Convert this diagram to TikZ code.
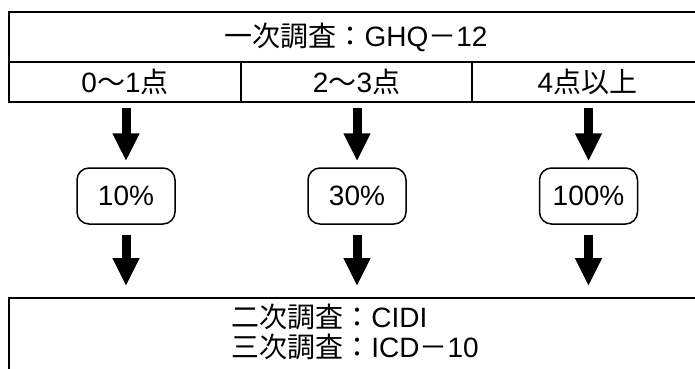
\documentclass[tikz,border=0pt]{standalone}
\usepackage{fontspec}
\setmainfont{Liberation Sans}
\newfontfamily\jp{Noto Sans CJK JP}
\usetikzlibrary{arrows.meta}
\begin{document}
\begin{tikzpicture}[x=1pt,y=-1pt,
  txt/.style={font=\fontsize{28}{30}\selectfont},
  frame/.style={draw, line width=1.8pt, inner sep=0pt, txt},
  pct/.style={draw, line width=1.5pt, rounded corners=12pt, minimum width=98pt, minimum height=56pt, inner sep=0pt, txt},
  blockarrow/.style={line width=9pt, -{Triangle[width=25pt,length=28pt]}},
  lbl/.style={txt, inner sep=0pt, align=left}
]
\useasboundingbox (0,0) rectangle (695,368);
\clip (0,0) rectangle (695,368);
% top box
\node[frame, minimum width=694pt, minimum height=50pt] (top) at (356,37) {{\jp 一次調査：}GHQ{\jp －}12};
\node[frame, minimum width=232pt, minimum height=40pt] (c1) at (125,82) {0{\jp 〜}1{\jp 点}};
\node[frame, minimum width=231pt, minimum height=40pt] (c2) at (356.5,82) {2{\jp 〜}3{\jp 点}};
\node[frame, minimum width=231pt, minimum height=40pt] (c3) at (587.5,82) {4{\jp 点以上}};
% percentage boxes
\node[pct] (p1) at (126,196) {10\%};
\node[pct] (p2) at (357,196) {30\%};
\node[pct] (p3) at (588.5,196) {100\%};
% bottom box
\node[frame, minimum width=694pt, minimum height=102pt] (bot) at (356,349) {};
\node[lbl] (bottxt) at (355,332) {{\jp 二次調査：}CIDI\\{\jp 三次調査：}ICD{\jp －}10};
% arrows
\foreach \c/\p in {c1/p1,c2/p2,c3/p3}{
  \draw[blockarrow, shorten <=5pt, shorten >=6pt] (\p.north |- \c.south) -- (\p.north);
  \draw[blockarrow, shorten <=10pt, shorten >=11pt] (\p.south) -- (\p.south |- bot.north);
}
\end{tikzpicture}
\end{document}
